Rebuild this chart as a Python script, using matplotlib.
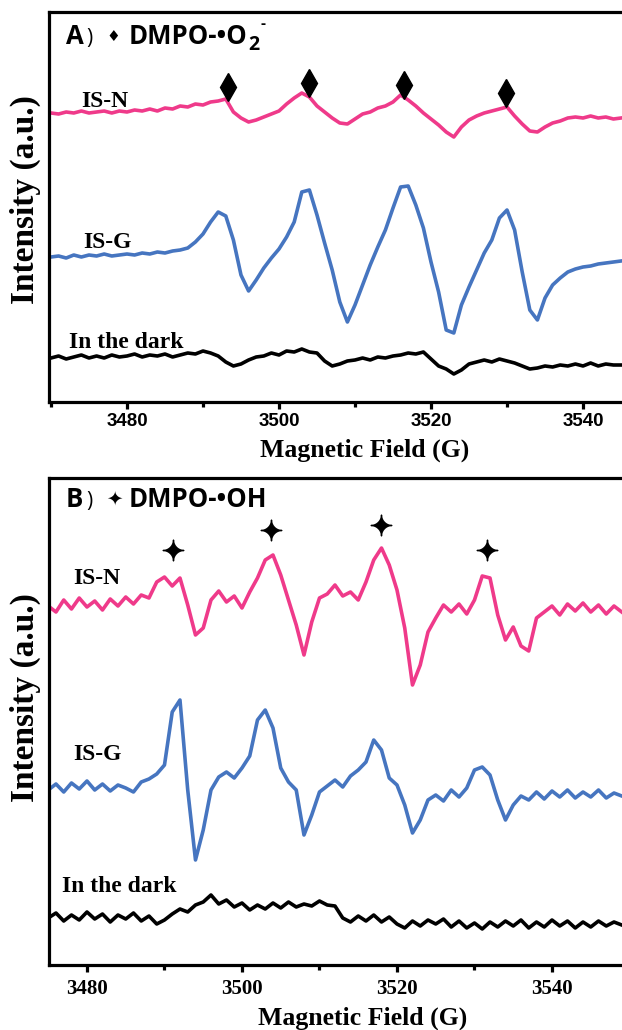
import numpy as np
import matplotlib.pyplot as plt
from matplotlib.ticker import MultipleLocator

# ---- data ----
# panel A: DMPO-O2- spectra, 1 G steps
field_a = np.arange(3470, 3546)
isn_a = [0, -1, 1, 0, 2, 0, 1, 2, 0, 2, 1, 3, 2, 4, 2, 5, 4, 7, 6, 9,
         8, 11, 12, 14, 1, -5, -9, -7, -4, -1, 2, 9, 15, 20, 16, 7, 1, -5, -10, -11,
         -6, -1, 1, 5, 7, 11, 18, 13, 7, 0, -6, -12, -19, -24, -14, -7, -3, 0, 2, 4,
         6, -3, -11, -18, -19, -14, -10, -8, -5, -4, -5, -3, -5, -4, -6, -5]
isg_a = [0, 1, -1, 2, 0, 2, 1, 3, 1, 2, 3, 2, 4, 3, 5, 4, 6, 7, 9, 15,
         23, 35, 45, 41, 17, -18, -34, -23, -11, -1, 8, 20, 35, 65, 67, 42, 14, -13, -45, -65,
         -48, -28, -8, 10, 27, 49, 70, 71, 52, 29, -5, -35, -73, -76, -48, -30, -13, 4, 17, 39,
         47, 27, -15, -53, -63, -41, -28, -21, -15, -12, -10, -9, -7, -6, -5, -4]
dark_a = [0, 2, -1, 1, 3, 0, 2, 0, 3, 1, 2, 4, 1, 3, 2, 4, 1, 3, 5, 4,
          7, 5, 2, -4, -8, -6, -2, 1, 2, 5, 3, 7, 6, 9, 6, 5, -3, -8, -6, -3,
          -2, 0, -2, 1, 0, 2, 3, 5, 4, 6, -1, -8, -11, -16, -12, -6, -4, -2, -4, -1,
          -3, -5, -8, -11, -10, -8, -9, -7, -8, -6, -8, -5, -8, -6, -7, -7]
peaks_a = [3493.3, 3503.9, 3516.4, 3529.9]
peak_h_a = [315, 319, 317, 309]

# panel B: DMPO-OH spectra, 1 G steps
field_b = np.arange(3475, 3550)
isn_b = [0, -6, 6, -3, 8, -1, 5, -4, 7, 0, 9, 2, 11, 8, 24, 29, 20, 28, 1, -29,
         -22, 6, 15, 4, 10, -2, 14, 28, 46, 51, 31, 6, -19, -49, -16, 8, 12, 21, 10, 14,
         6, 24, 46, 58, 41, 16, -22, -79, -59, -26, -12, 1, -6, 2, -8, 6, 30, 28, -9, -34,
         -21, -40, -45, -12, -6, 0, -9, 2, -5, 3, -6, 1, -8, 0, -6]
isg_b = [-2, 4, -4, 5, -1, 7, -2, 4, -3, 3, 0, -4, 6, 9, 14, 23, 76, 88, -2, -72,
         -42, -2, 11, 16, 10, 20, 32, 68, 78, 60, 20, 6, -2, -47, -27, -4, 2, 8, 1, 12,
         18, 26, 48, 38, 10, 3, -17, -45, -32, -12, -7, -13, -2, -9, 0, 18, 21, 13, -12, -32,
         -17, -8, -12, -4, -11, -3, -9, -2, -10, -4, -9, -2, -10, -5, -8]
dark_b = [0, 5, -3, 3, -2, 6, -1, 4, -4, 3, -1, 5, -3, 2, -6, -2, 4, 9, 6, 13,
          16, 23, 14, 18, 11, 15, 8, 13, 9, 15, 10, 16, 11, 14, 12, 17, 13, 12, 0, -4,
          2, -3, 3, -4, 1, -6, -10, -3, -8, -2, -6, -1, -9, -3, -10, -5, -11, -4, -9, -3,
          -8, -2, -10, -4, -9, -2, -8, -3, -10, -4, -9, -3, -8, -4, -7]
peaks_b = [3491.1, 3503.7, 3517.9, 3531.6]
peak_h_b = [415, 435, 440, 415]

names = ['IS-N', 'IS-G', 'In the dark']
colors = ['#EF3A8A', '#4675C0', 'black']
offsets_a = [289, 145, 44]
offsets_b = [359, 177, 47]

W, H = 622, 1030
SERIF = 'Liberation Serif'
SANS = ['Open Sans', 'DejaVu Sans']


def fx(px):
    return px / W


def fy(py):
    return 1 - py / H


fig = plt.figure(figsize=(W / 100, H / 100), dpi=100)
ax1 = fig.add_axes([fx(49), fy(402), fx(680 - 49), (402 - 12) / H])
ax2 = fig.add_axes([fx(49), fy(965), fx(676 - 49), (965 - 478) / H])

for ax, x, curves, offs in [(ax1, field_a, [isn_a, isg_a, dark_a], offsets_a),
                            (ax2, field_b, [isn_b, isg_b, dark_b], offsets_b)]:
    for y, c, o in zip(curves, colors, offs):
        ax.plot(x, np.array(y) + o, color=c, lw=2.6)

ax1.plot(peaks_a, peak_h_a, 'd', color='black', ms=14, ls='none')
ax2.plot(peaks_b, peak_h_b, marker='$\u2726$', color='black', ms=15, ls='none')

ax1.set_xlim(3469.74, 3552.76)
ax1.set_ylim(0, 390)
ax2.set_xlim(3475.1, 3556.0)
ax2.set_ylim(0, 487)

for ax in [ax1, ax2]:
    for s in ['left', 'bottom', 'top']:
        ax.spines[s].set_linewidth(2.3)
    ax.spines['right'].set_visible(False)
    ax.set_yticks([])
    ax.xaxis.set_major_locator(MultipleLocator(20))
    ax.xaxis.set_minor_locator(MultipleLocator(10))
    ax.tick_params(axis='x', which='major', direction='out', length=5, width=2.3)
    ax.tick_params(axis='x', which='minor', direction='out', length=3.5, width=2.3)
    ax.set_ylabel('Intensity (a.u.)', family=SERIF, fontweight='bold', fontsize=24)
    ax.set_xlabel('Magnetic Field (G)', family=SERIF, fontweight='bold', fontsize=18.5)

ax1.tick_params(axis='x', pad=3)
for lb in ax1.get_xticklabels():
    lb.set_family('Liberation Sans')
    lb.set_fontweight('bold')
    lb.set_fontsize(13.5)
ax2.tick_params(axis='x', pad=5)
for lb in ax2.get_xticklabels():
    lb.set_family(SERIF)
    lb.set_fontweight('bold')
    lb.set_fontsize(15)

ax1.yaxis.set_label_coords(-0.012, 0.52)
ax2.yaxis.set_label_coords(-0.012, 0.55)
ax1.xaxis.set_label_coords(0.5, -0.095)
ax2.xaxis.set_label_coords(0.5, -0.085)

# curve labels
lab_a = [(81, 107), (83, 248), (69, 348)]
lab_b = [(73, 584), (73, 760), (62, 892)]
for (px, py), t in zip(lab_a + lab_b, names + names):
    fig.text(fx(px), fy(py), t, family=SERIF, fontweight='bold', fontsize=17,
             va='baseline')

# panel titles, pieces placed one after another
rend = fig.canvas.get_renderer()


def put(px, py, s, **kw):
    t = fig.text(fx(px), fy(py), s, va='baseline', **kw)
    return t.get_window_extent(renderer=rend).x1


for py, letter, sym, ssize, rest in [(44, 'A', '\u2666', 11, 'DMPO-\u2022O'),
                                     (507, 'B', '\u2726', 14, 'DMPO-\u2022OH')]:
    put(66, py, letter, family=SANS, fontweight='bold', fontsize=18.5)
    put(86, py, ')', family=SANS, fontsize=15)
    put(106, py - 3, sym, family=['DejaVu Sans'], fontsize=ssize)
    end = put(129, py, rest, family=SANS, fontweight='bold', fontsize=18.5)
    if letter == 'A':
        end2 = put(end + 1, py + 6, '2', family=SANS, fontweight='bold', fontsize=14)
        put(end2 + 1, py - 16, '-', family=SANS, fontweight='bold', fontsize=11)

fig.savefig('out.png', dpi=100)
